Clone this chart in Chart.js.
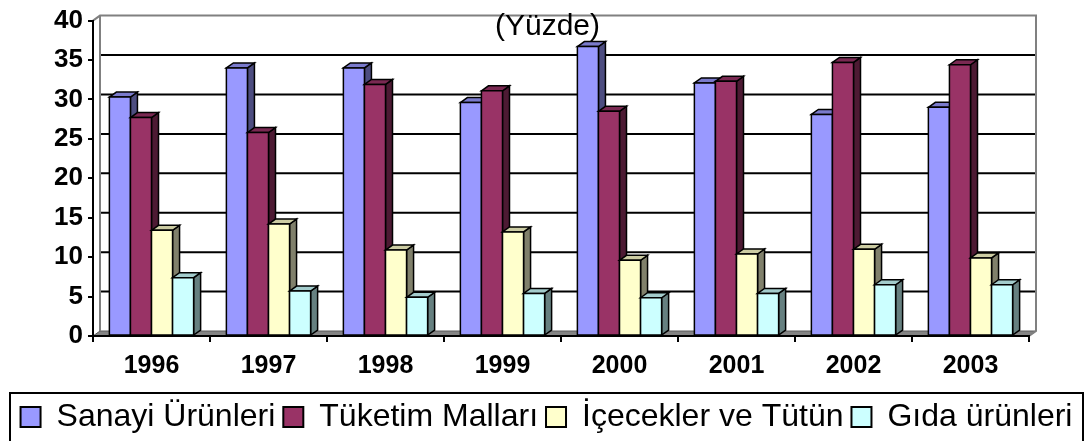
<!DOCTYPE html>
<html>
<head>
<meta charset="utf-8">
<script src="https://cdn.jsdelivr.net/npm/chart.js@4/dist/chart.umd.min.js"></script>
<style>
  html, body { margin: 0; padding: 0; background: #ffffff; }
  #wrap { width: 1089px; height: 441px; }
</style>
</head>
<body>
<div id="wrap"><canvas id="c" width="1089" height="441"></canvas></div>
<script>
const categories = ['1996', '1997', '1998', '1999', '2000', '2001', '2002', '2003'];
const seriesNames = ['Sanayi Ürünleri', 'Tüketim Malları', 'İçecekler ve Tütün', 'Gıda ürünleri'];
const sanayi  = [30.3, 34.0, 34.0, 29.6, 36.7, 32.1, 28.1, 29.0];
const tuketim = [27.7, 25.8, 31.9, 31.1, 28.5, 32.3, 34.7, 34.4];
const icecek  = [13.4, 14.2, 10.9, 13.2, 9.6, 10.4, 11.0, 9.9];
const gida    = [7.4, 5.7, 4.9, 5.4, 4.85, 5.4, 6.5, 6.5];
const yTicks  = [0, 5, 10, 15, 20, 25, 30, 35, 40];
const titleText = '(Yüzde)';

const FONT = "'Liberation Sans', Arial, sans-serif";
const frontColors = ['#9999FF', '#993366', '#FFFFCC', '#CCFFFF'];
const sideColors  = ['#4d4d80', '#4d1a33', '#80806b', '#668080'];
const topColors   = ['#7a7acc', '#7a2952', '#cccca3', '#a3cccc'];
const DX = 7, DY = -5;

const wallPlugin = {
  id: 'wall3d',
  beforeDraw(chart) {
    const ctx = chart.ctx;
    const a = chart.chartArea;
    const y = chart.scales.y;
    ctx.save();
    // floor
    ctx.beginPath();
    ctx.moveTo(a.left, a.bottom);
    ctx.lineTo(a.right, a.bottom);
    ctx.lineTo(a.right + DX, a.bottom + DY);
    ctx.lineTo(a.left + DX, a.bottom + DY);
    ctx.closePath();
    ctx.fillStyle = '#848484';
    ctx.fill();
    ctx.strokeStyle = '#5a5a5a';
    ctx.lineWidth = 1;
    ctx.stroke();
    // back gridlines
    ctx.strokeStyle = '#000000';
    ctx.lineWidth = 2;
    yTicks.forEach(v => {
      if (v === 0 || v === 40) return;
      const py = y.getPixelForValue(v) + DY;
      ctx.beginPath();
      ctx.moveTo(a.left + DX, py);
      ctx.lineTo(a.right + DX, py);
      ctx.stroke();
    });
    // back wall edges
    const topY = y.getPixelForValue(40);
    ctx.strokeStyle = '#808080';
    ctx.lineWidth = 2;
    ctx.beginPath();
    ctx.moveTo(a.left, topY);
    ctx.lineTo(a.left + DX, topY + DY);
    ctx.lineTo(a.right + DX, topY + DY);
    ctx.lineTo(a.right + DX, a.bottom + DY);
    ctx.lineTo(a.right, a.bottom);
    ctx.moveTo(a.left + DX, topY + DY);
    ctx.lineTo(a.left + DX, a.bottom + DY);
    ctx.stroke();
    ctx.restore();
  },
  beforeDatasetsDraw(chart) {
    const ctx = chart.ctx;
    ctx.save();
    ctx.lineJoin = 'miter';
    chart.data.datasets.forEach((ds, di) => {
      const meta = chart.getDatasetMeta(di);
      if (meta.hidden) return;
      meta.data.forEach(el => {
        const p = el.getProps(['x', 'y', 'base', 'width'], true);
        const l = p.x - p.width / 2, r = p.x + p.width / 2;
        const t = p.y, b = p.base;
        ctx.lineWidth = 1.5;
        ctx.strokeStyle = '#000000';
        // side
        ctx.beginPath();
        ctx.moveTo(r, t); ctx.lineTo(r + DX, t + DY); ctx.lineTo(r + DX, b + DY); ctx.lineTo(r, b);
        ctx.closePath();
        ctx.fillStyle = sideColors[di];
        ctx.fill(); ctx.stroke();
        // top
        ctx.beginPath();
        ctx.moveTo(l, t); ctx.lineTo(l + DX, t + DY); ctx.lineTo(r + DX, t + DY); ctx.lineTo(r, t);
        ctx.closePath();
        ctx.fillStyle = topColors[di];
        ctx.fill(); ctx.stroke();
        // front
        ctx.beginPath();
        ctx.rect(l, t, r - l, b - t);
        ctx.fillStyle = frontColors[di];
        ctx.fill(); ctx.stroke();
      });
    });
    ctx.restore();
    return false;
  },
  afterDraw(chart) {
    const ctx = chart.ctx;
    ctx.save();
    // title
    ctx.fillStyle = '#000000';
    ctx.font = '30px ' + FONT;
    ctx.textAlign = 'center';
    ctx.textBaseline = 'middle';
    ctx.fillText(titleText, chart.width / 2 + 3, 27);
    // legend frame
    const lg = chart.legend;
    const pad = lg.options.labels.padding;
    const cy = lg.top + pad + 16;
    ctx.strokeStyle = '#000000';
    ctx.lineWidth = 2;
    ctx.strokeRect(lg.left, cy - 24, lg.right - lg.left, 80);
    ctx.restore();
  }
};

const datasets = [sanayi, tuketim, icecek, gida].map((d, i) => ({
  label: seriesNames[i],
  data: d,
  backgroundColor: frontColors[i],
  borderColor: '#000000',
  borderWidth: 2,
  categoryPercentage: 0.72,
  barPercentage: 1.0
}));

new Chart(document.getElementById('c'), {
  type: 'bar',
  data: { labels: categories, datasets: datasets },
  plugins: [wallPlugin],
  options: {
    responsive: false,
    animation: false,
    layout: { padding: { left: 10, right: 6, top: 18, bottom: 0 } },
    plugins: {
      title: { display: false },
      tooltip: { enabled: false },
      legend: {
        position: 'bottom',
        maxHeight: 48,
        labels: {
          color: '#000000',
          boxWidth: 20,
          boxHeight: 20,
          padding: 8,
          font: { family: FONT, size: 32 }
        }
      }
    },
    scales: {
      x: {
        grid: { display: true, drawOnChartArea: false, drawTicks: true, tickLength: 6, tickColor: '#000000', lineWidth: 2, offset: true },
        border: { display: true, color: '#000000', width: 2 },
        ticks: { color: '#000000', padding: 9, font: { family: FONT, size: 25, weight: 'bold' }, maxRotation: 0 },
        afterFit(s) { s.height = 57; }
      },
      y: {
        min: 0, max: 40,
        grid: { display: true, drawOnChartArea: false, drawTicks: true, tickLength: 5, tickColor: '#000000', lineWidth: 2 },
        border: { display: true, color: '#000000', width: 2 },
        ticks: { stepSize: 5, color: '#000000', padding: 5, font: { family: FONT, size: 26, weight: 'bold' } },
        afterFit(s) { s.width = 83; }
      },
      y2: {
        position: 'right',
        display: true,
        grid: { display: false },
        border: { display: false },
        ticks: { display: false },
        afterFit(s) { s.width = 54; }
      }
    }
  }
});
</script>
</body>
</html>
